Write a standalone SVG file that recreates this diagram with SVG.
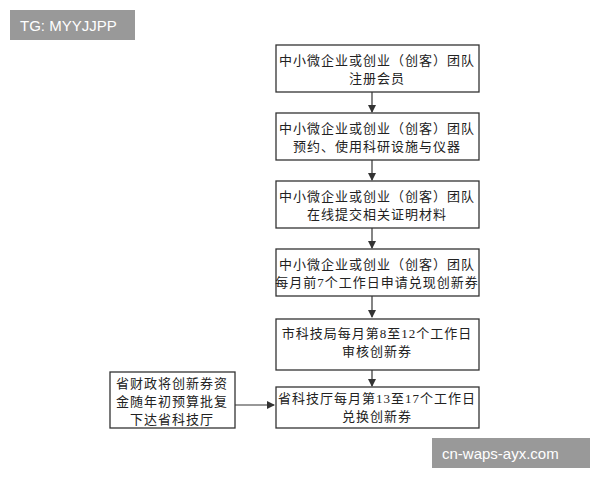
<svg xmlns="http://www.w3.org/2000/svg" width="600" height="480" viewBox="0 0 600 480">
<style>
.b{fill:#fff;stroke:#333;stroke-width:1.3}
.t{font-family:"Liberation Serif","Noto Sans CJK SC",serif;font-size:13px;fill:#222;text-anchor:middle;letter-spacing:1px}
.l{stroke:#333;stroke-width:1.2;fill:none;marker-end:url(#a)}
.w{font-family:"Liberation Sans",sans-serif;font-size:15px;fill:#fff}
</style>
<defs><marker id="a" markerWidth="8" markerHeight="8" refX="7" refY="4" orient="auto" markerUnits="userSpaceOnUse"><path d="M0,0L8,4L0,8z" fill="#333"/></marker></defs>
<rect width="600" height="480" fill="#fff"/>
<g id="connectors">
<path class="l" d="M372,92V112"/>
<path class="l" d="M372,160V180"/>
<path class="l" d="M372,228V248"/>
<path class="l" d="M372,296V317"/>
<path class="l" d="M372,370V386"/>
<path class="l" d="M235,405H274"/>
</g>
<g id="n1"><rect class="b" x="276" y="45" width="203" height="47"/><text class="t" x="377" y="65">中小微企业或创业（创客）团队</text><text class="t" x="377" y="83">注册会员</text></g>
<g id="n2"><rect class="b" x="276" y="113" width="203" height="47"/><text class="t" x="377" y="133">中小微企业或创业（创客）团队</text><text class="t" x="377" y="151">预约、使用科研设施与仪器</text></g>
<g id="n3"><rect class="b" x="276" y="181" width="203" height="47"/><text class="t" x="377" y="201">中小微企业或创业（创客）团队</text><text class="t" x="377" y="219">在线提交相关证明材料</text></g>
<g id="n4"><rect class="b" x="276" y="249" width="203" height="47"/><text class="t" x="377" y="269">中小微企业或创业（创客）团队</text><text class="t" x="377" y="287">每月前7个工作日申请兑现创新券</text></g>
<g id="n5"><rect class="b" x="276" y="319" width="203" height="51"/><text class="t" x="377" y="338">市科技局每月第8至12个工作日</text><text class="t" x="377" y="356">审核创新券</text></g>
<g id="n6"><rect class="b" x="276" y="387" width="203" height="41"/><text class="t" x="377" y="403">省科技厅每月第13至17个工作日</text><text class="t" x="377" y="421">兑换创新券</text></g>
<g id="n7"><rect class="b" x="110" y="372" width="125" height="56"/><text class="t" x="172" y="388">省财政将创新券资</text><text class="t" x="172" y="406">金随年初预算批复</text><text class="t" x="172" y="424">下达省科技厅</text></g>
<rect x="10" y="10" width="125" height="30" fill="#999"/><text class="w" x="20" y="31">TG: MYYJJPP</text>
<rect x="432" y="438" width="158" height="30" fill="#999"/><text class="w" x="442" y="459">cn-waps-ayx.com</text>
</svg>
